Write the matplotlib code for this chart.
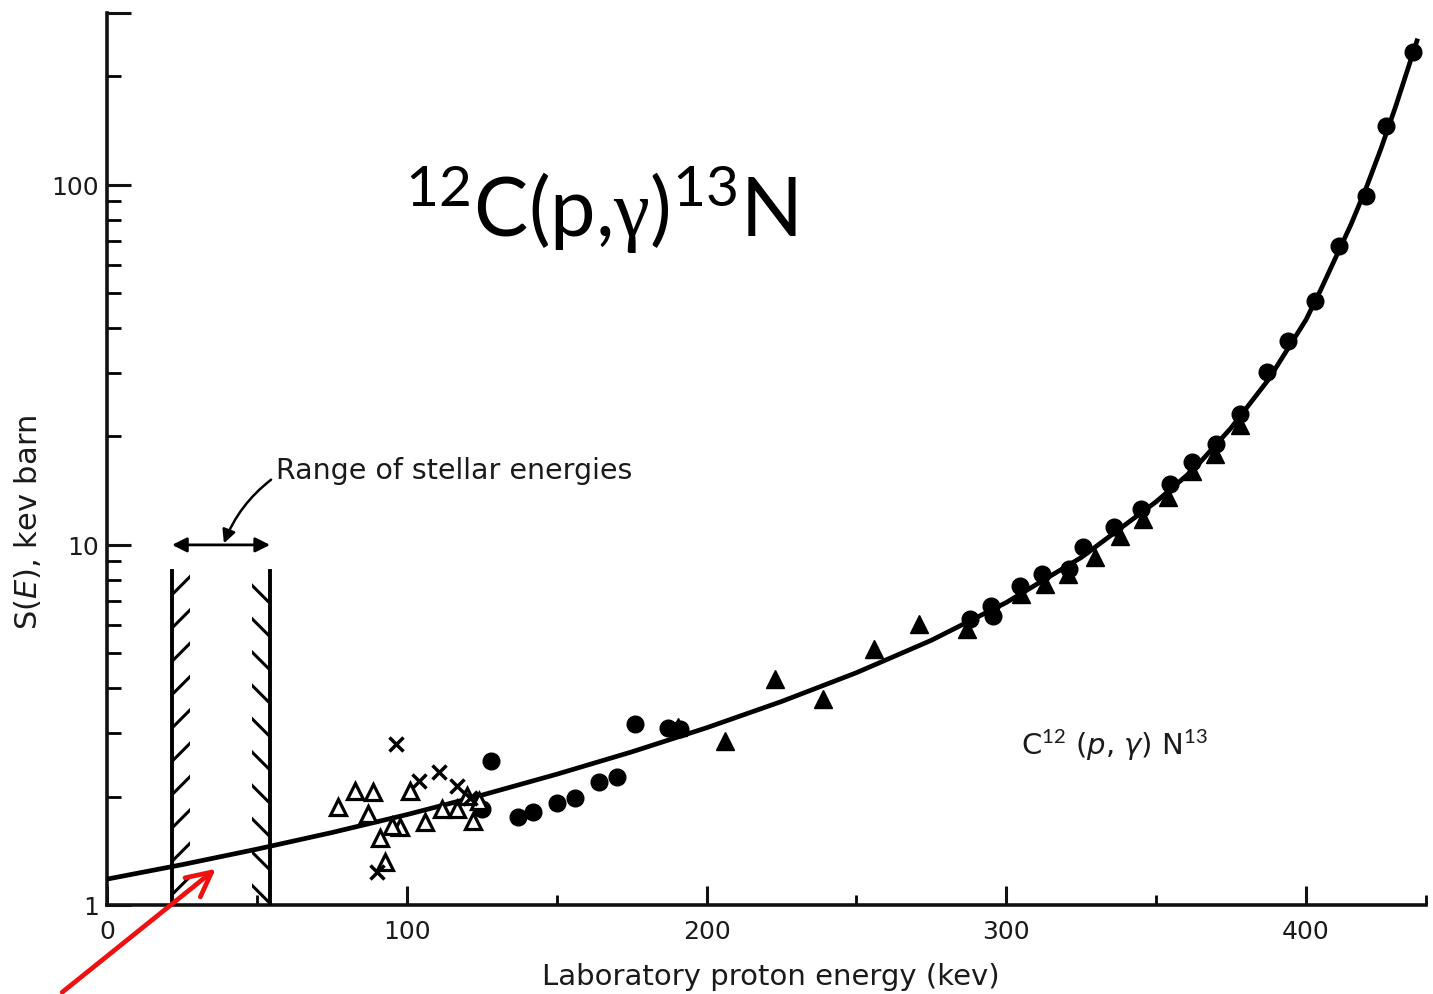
import matplotlib
matplotlib.use("Agg")
import matplotlib.pyplot as plt
from matplotlib.patches import Rectangle, FancyArrowPatch
from matplotlib.ticker import FixedLocator, FixedFormatter, NullFormatter

# ---------------- data ----------------
curve_E = [0, 25, 50, 75, 100, 125, 150, 175, 200, 225, 250, 275, 300, 325, 350,
           362.5, 375, 387.5, 400, 405, 410, 415, 420, 425, 430, 437]
curve_S = [1.18, 1.294, 1.429, 1.589, 1.782, 2.018, 2.307, 2.661, 3.105, 3.673,
           4.416, 5.433, 6.918, 9.226, 13.18, 16.2, 21.13, 28.8, 42.2, 51.3, 63.1,
           77.6, 97.7, 126, 166, 251]

circ_E = [128, 125, 137, 142, 150, 156, 164, 170, 176, 187, 191, 288, 295, 295.6,
          304.6, 312, 321, 325.6, 336, 345, 354.6, 362, 370, 378, 387, 394, 403,
          411, 420, 426.7, 435.7]
circ_S = [2.51, 1.85, 1.76, 1.81, 1.92, 1.98, 2.20, 2.27, 3.18, 3.10, 3.08, 6.23,
          6.77, 6.35, 7.69, 8.30, 8.58, 9.87, 11.2, 12.6, 14.8, 17.0, 19.1, 23.1,
          30.2, 36.9, 47.6, 67.7, 93.2, 146, 234]

tri_E = [190.5, 206, 222.7, 239, 256, 271, 287, 305, 313, 320.6, 329.6, 338, 345.6,
         354, 362, 369.6, 378]
tri_S = [3.12, 2.85, 4.25, 3.73, 5.14, 6.03, 5.85, 7.3, 7.8, 8.3, 9.27, 10.6, 11.8,
         13.6, 16.0, 17.9, 21.5]

otri_E = [77, 82.7, 88.7, 87, 101, 91, 92.7, 97.7, 95, 106, 111.7, 116.7, 120, 122, 124]
otri_S = [1.87, 2.07, 2.06, 1.79, 2.07, 1.53, 1.32, 1.65, 1.66, 1.70, 1.85, 1.85,
          2.01, 1.71, 1.94]

cross_E = [96.3, 104, 110.7, 116.7, 90, 121]
cross_S = [2.80, 2.21, 2.34, 2.14, 1.235, 1.98]

stellar_range = [21.7, 54.4]      # keV
stellar_top = 8.47                 # top of hatched lines

x_major = [0, 100, 200, 300, 400]
x_minor = [50, 150, 250, 350, 440]
y_major = [1, 10, 100, 300]
y_major_labels = ["1", "10", "100", ""]
y_minor = [2, 3, 4, 5, 6, 7, 8, 9, 20, 30, 40, 50, 60, 70, 80, 90, 200]

# ---------------- style ----------------
plt.rcParams["hatch.linewidth"] = 2.2
plt.rcParams["mathtext.fontset"] = "custom"
plt.rcParams["mathtext.rm"] = "Lato"
plt.rcParams["mathtext.it"] = "DejaVu Sans:italic"
plt.rcParams["mathtext.cal"] = "Liberation Serif"
plt.rcParams["mathtext.bf"] = "Lato:bold"

TXT = "#1a1a1a"

fig = plt.figure(figsize=(14.33, 9.95), dpi=100)
ax = fig.add_axes([0.07467, 0.08945, 0.9204, 0.8965])

ax.set_yscale("log")
ax.set_xlim(0, 440)
ax.set_ylim(1, 300)

for s in ("top", "right"):
    ax.spines[s].set_visible(False)
for s in ("left", "bottom"):
    ax.spines[s].set_linewidth(2.6)
    ax.spines[s].set_color("#111111")

ax.xaxis.set_major_locator(FixedLocator(x_major))
ax.xaxis.set_major_formatter(FixedFormatter([str(v) for v in x_major]))
ax.xaxis.set_minor_locator(FixedLocator(x_minor))
ax.xaxis.set_minor_formatter(NullFormatter())
ax.yaxis.set_major_locator(FixedLocator(y_major))
ax.yaxis.set_major_formatter(FixedFormatter(y_major_labels))
ax.yaxis.set_minor_locator(FixedLocator(y_minor))
ax.yaxis.set_minor_formatter(NullFormatter())

ax.tick_params(axis="both", which="major", direction="in", width=2.2,
               color="#111111", labelsize=18, labelcolor=TXT)
ax.tick_params(axis="x", which="major", length=14, pad=10)
ax.tick_params(axis="y", which="major", length=17, pad=6)
ax.tick_params(axis="x", which="minor", direction="in", length=7, width=2.0)
ax.tick_params(axis="y", which="minor", direction="in", length=10, width=2.0)

# fitted curve
ax.plot(curve_E, curve_S, color="black", lw=3.4, zorder=3)

# data sets
ax.plot(circ_E, circ_S, "o", color="black", ms=12, zorder=4, ls="none")
ax.plot(tri_E, tri_S, "^", color="black", ms=13, zorder=4, ls="none")
ax.plot(otri_E, otri_S, "^", mfc="white", mec="black", mew=2.3, ms=12, zorder=4,
        ls="none")
ax.plot(cross_E, cross_S, "x", color="black", mew=2.5, ms=9.5, zorder=4, ls="none")

# hatched stellar-energy window
hw = 6.0
ax.add_patch(Rectangle((stellar_range[0], 1), hw, stellar_top - 1, fill=False,
                       hatch="/", lw=0, zorder=2))
ax.add_patch(Rectangle((stellar_range[1] - hw, 1), hw, stellar_top - 1, fill=False,
                       hatch="\\", lw=0, zorder=2))
for xv in stellar_range:
    ax.plot([xv, xv], [1, stellar_top], color="black", lw=2.8, zorder=3)

ax.annotate("", xy=(stellar_range[0], 10), xytext=(stellar_range[1], 10),
            arrowprops=dict(arrowstyle="<|-|>", color="black", lw=2.0,
                            mutation_scale=22, shrinkA=0, shrinkB=0))
ax.annotate("Range of stellar energies", xy=(39, 10.1), xytext=(56.4, 15.3),
            fontsize=20.5, color=TXT, ha="left", va="baseline",
            arrowprops=dict(arrowstyle="-|>", color="black", lw=1.8,
                            mutation_scale=20, shrinkA=2, shrinkB=0,
                            connectionstyle="arc3,rad=0.15",
                            relpos=(0.0, 0.3)))

# titles / labels
ax.text(99.4, 72.1, r"$^{12}$C(p,$\mathcal{\gamma}$)$^{13}$N", fontsize=58.5,
        family="Lato", ha="left", va="baseline", color="black")
ax.text(305, 2.63, r"C$^{12}$ ($p$, $\gamma$) N$^{13}$", fontsize=21,
        ha="left", va="baseline", color=TXT)

ax.set_xlabel("Laboratory proton energy (kev)", fontsize=21, color=TXT)
ax.xaxis.set_label_coords(0.503, -0.064)
ax.set_ylabel(r"S($\mathit{E}$), kev barn", fontsize=22, color=TXT)
ax.yaxis.set_label_coords(-0.0485, 0.4305)

# red pointer arrow (figure coordinates)
fig.add_artist(FancyArrowPatch(
    (60 / 1433, 0.0), (218 / 1433, 1 - 868 / 995), transform=fig.transFigure,
    arrowstyle="->", mutation_scale=44, color="#ee1111", lw=3.4))

fig.savefig("out.png", dpi=100, facecolor="white")
